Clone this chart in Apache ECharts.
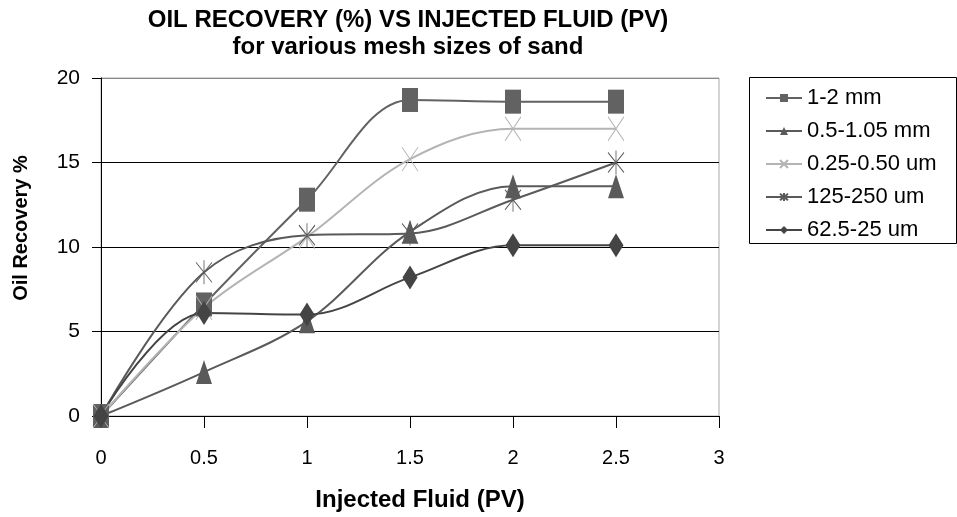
<!DOCTYPE html>
<html>
<head>
<meta charset="utf-8">
<script src="https://cdn.jsdelivr.net/npm/echarts@6/dist/echarts.min.js"></script>
<style>
  html, body { margin: 0; padding: 0; background: #fff; }
  #main { width: 957px; height: 517px; }
</style>
</head>
<body>
<div id="main"></div>
<script>
// injected fluid (PV)
var xs = [0, 0.5, 1, 1.5, 2, 2.5];
// oil recovery % per sand size
var mm1_2 = [0, 6.6, 12.8, 18.7, 18.6, 18.6];
var mm05_105 = [0, 2.6, 5.6, 10.9, 13.6, 13.6];
var um025_050 = [0, 6.4, 10.6, 15.2, 17.0, 17.0];
var um125_250 = [0, 8.5, 10.7, 10.8, 12.8, 15.0];
var um625_25 = [0, 6.1, 6.0, 8.2, 10.1, 10.1];
var names = ['1-2 mm', '0.5-1.05 mm', '0.25-0.50 um', '125-250 um', '62.5-25 um'];

function pairs(ys) {
    return xs.map(function (x, i) { return [x, ys[i]]; });
}

(function () {
    var myChart = echarts.init(document.getElementById('main'));

    var crossPath = 'path://M0,0L10,10M10,0L0,10';
    var starPath = 'path://M0,0L10,10M10,0L0,10M5,-1L5,11';
    var font = 'Liberation Sans, Arial, sans-serif';

    function line(name, ys, color, symbol, size, extra) {
        var s = {
            name: name,
            type: 'line',
            data: pairs(ys),
            smooth: 0.35,
            symbol: symbol,
            symbolSize: size,
            lineStyle: { color: color, width: 2 },
            itemStyle: { color: color },
            z: 3
        };
        if (extra) Object.assign(s, extra);
        return s;
    }

    var option = {
        animation: false,
        textStyle: { fontFamily: font },
        title: {
            text: 'OIL RECOVERY (%) VS INJECTED FLUID (PV)\nfor various mesh sizes of sand',
            left: 403,
            top: 2,
            textAlign: 'center',
            textStyle: { fontSize: 24, fontWeight: 'bold', color: '#000', lineHeight: 27, fontFamily: font }
        },
        graphic: [{
            type: 'rect',
            shape: { x: 749.5, y: 77.5, width: 207, height: 166 },
            style: { fill: '#fff', stroke: '#000', lineWidth: 1 },
            z: 0
        }],
        legend: {
            orient: 'vertical',
            left: 760,
            top: 82,
            itemWidth: 36,
            itemHeight: 10,
            itemGap: 11,
            data: names,
            textStyle: { fontSize: 22, color: '#000', fontFamily: font }
        },
        grid: {
            left: 101,
            top: 78,
            right: 238,
            bottom: 100,
            show: true,
            borderColor: '#aaa',
            borderWidth: 1
        },
        xAxis: {
            type: 'value',
            min: 0,
            max: 3,
            interval: 0.5,
            name: 'Injected Fluid (PV)',
            nameLocation: 'middle',
            nameGap: 72,
            nameTextStyle: { fontSize: 24, fontWeight: 'bold', color: '#000', padding: [0, 0, 0, 20] },
            axisLine: { lineStyle: { color: '#000', width: 1 } },
            axisTick: { show: true, length: 12, lineStyle: { color: '#000' } },
            axisLabel: { margin: 32, fontSize: 20, color: '#000' },
            splitLine: { show: false }
        },
        yAxis: {
            type: 'value',
            min: 0,
            max: 20,
            interval: 5,
            name: 'Oil Recovery %',
            nameLocation: 'middle',
            nameGap: 70,
            nameTextStyle: { fontSize: 20, fontWeight: 'bold', color: '#000', padding: [0, 0, 0, 38] },
            axisLine: { show: true, lineStyle: { color: '#000', width: 1 } },
            axisTick: { show: true, length: 9, lineStyle: { color: '#000' } },
            axisLabel: { margin: 21, fontSize: 21, color: '#000' },
            splitLine: { show: true, lineStyle: { color: ['#000', '#000', '#000', '#000', '#888'], width: 1 } }
        },
        series: [
            line(names[0], mm1_2, '#626262', 'rect', [16, 24]),
            line(names[1], mm05_105, '#5a5a5a', 'triangle', [16, 24]),
            line(names[2], um025_050, '#b4b4b4', crossPath, [16, 24], {
                itemStyle: { color: 'none', borderColor: '#b4b4b4', borderWidth: 1 }
            }),
            line(names[3], um125_250, '#5a5a5a', starPath, [16, 24], {
                itemStyle: { color: 'none', borderColor: '#5a5a5a', borderWidth: 1 }
            }),
            line(names[4], um625_25, '#444', 'diamond', [15, 24])
        ]
    };

    myChart.setOption(option);
    window.addEventListener('resize', function () {
        myChart.resize();
    });
})();
</script>
</body>
</html>
